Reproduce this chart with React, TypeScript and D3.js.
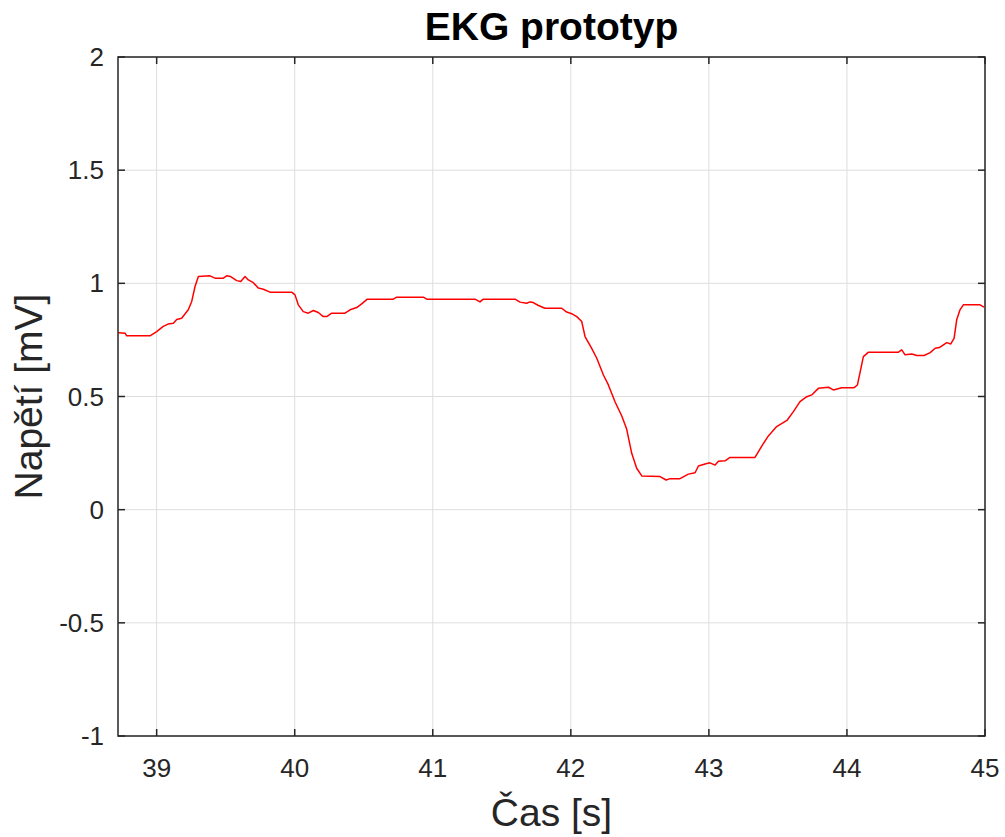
import React from "react";
import * as d3 from "d3";

const timeS: number[] = [
  38.722, 38.771, 38.783, 38.952, 39.0, 39.048, 39.082, 39.121, 39.145, 39.181,
  39.229, 39.254, 39.278, 39.302, 39.386, 39.423, 39.483, 39.507, 39.536, 39.58,
  39.609, 39.64, 39.664, 39.7, 39.736, 39.773, 39.821, 39.978, 40.002, 40.026,
  40.062, 40.098, 40.135, 40.171, 40.207, 40.232, 40.268, 40.364, 40.401, 40.449,
  40.485, 40.526, 40.714, 40.739, 40.932, 40.956, 41.306, 41.342, 41.366, 41.596,
  41.632, 41.68, 41.704, 41.728, 41.765, 41.813, 41.934, 41.97, 42.006, 42.043,
  42.079, 42.103, 42.151, 42.188, 42.236, 42.272, 42.32, 42.369, 42.405, 42.441,
  42.477, 42.514, 42.646, 42.69, 42.719, 42.791, 42.851, 42.9, 42.924, 42.972,
  43.008, 43.045, 43.069, 43.117, 43.153, 43.334, 43.383, 43.431, 43.491, 43.568,
  43.612, 43.66, 43.709, 43.745, 43.793, 43.866, 43.902, 43.962, 44.052, 44.076,
  44.119, 44.156, 44.373, 44.397, 44.421, 44.47, 44.506, 44.559, 44.603, 44.639,
  44.669, 44.723, 44.752, 44.776, 44.795, 44.819, 44.843, 44.964, 44.993,
];

const voltageMv: number[] = [
  0.782, 0.78, 0.768, 0.768, 0.787, 0.81, 0.82, 0.824, 0.84, 0.846,
  0.883, 0.92, 0.986, 1.03, 1.033, 1.023, 1.023, 1.033, 1.03, 1.012,
  1.008, 1.03, 1.015, 1.003, 0.979, 0.974, 0.961, 0.961, 0.949, 0.905,
  0.875, 0.868, 0.88, 0.871, 0.853, 0.853, 0.868, 0.868, 0.883, 0.893,
  0.909, 0.93, 0.93, 0.939, 0.939, 0.93, 0.93, 0.918, 0.93, 0.93,
  0.917, 0.912, 0.918, 0.915, 0.902, 0.89, 0.89, 0.873, 0.866, 0.853,
  0.831, 0.765, 0.713, 0.669, 0.595, 0.551, 0.477, 0.414, 0.355, 0.249,
  0.183, 0.149, 0.146, 0.131, 0.137, 0.137, 0.157, 0.163, 0.193, 0.202,
  0.207, 0.197, 0.214, 0.216, 0.231, 0.231, 0.281, 0.326, 0.367, 0.396,
  0.433, 0.477, 0.499, 0.507, 0.536, 0.541, 0.529, 0.539, 0.539, 0.551,
  0.676, 0.696, 0.696, 0.706, 0.684, 0.688, 0.681, 0.681, 0.694, 0.713,
  0.716, 0.738, 0.732, 0.757, 0.839, 0.883, 0.905, 0.905, 0.895,
];

const xTicks: number[] = [39, 40, 41, 42, 43, 44, 45];
const yTicks: number[] = [-1, -0.5, 0, 0.5, 1, 1.5, 2];
const xDomain: [number, number] = [38.72, 45];
const yDomain: [number, number] = [-1, 2];

const titleText = "EKG prototyp";
const xLabelText = "Čas [s]";
const yLabelText = "Napětí [mV]";

export default function App() {
  const W = 1005;
  const H = 837;
  const left = 118;
  const right = 985;
  const top = 57;
  const bottom = 736;

  const x = d3.scaleLinear().domain(xDomain).range([left, right]);
  const y = d3.scaleLinear().domain(yDomain).range([bottom, top]);

  const pts: [number, number][] = timeS.map((t, i) => [t, voltageMv[i]]);
  const line = d3
    .line<[number, number]>()
    .x((d) => x(d[0]))
    .y((d) => y(d[1]));

  const axisColor = "#262626";
  const gridColor = "#dedede";
  const tickLen = 7;
  const font = "'Liberation Sans', Arial, Helvetica, sans-serif";
  const fmt = (v: number) => (v < 0 ? "-" + String(Math.abs(v)) : String(v));

  return (
    <svg
      width={W}
      height={H}
      style={{ position: "absolute", left: 0, top: 0, background: "#fff" }}
      fontFamily={font}
    >
      <rect x={0} y={0} width={W} height={H} fill="#fff" />
      <defs>
        <clipPath id="plotClip">
          <rect x={left} y={top} width={right - left} height={bottom - top} />
        </clipPath>
      </defs>
      {/* grid */}
      {xTicks.map((t) => (
        <line key={"gx" + t} x1={x(t)} x2={x(t)} y1={top} y2={bottom} stroke={gridColor} strokeWidth={1} />
      ))}
      {yTicks.map((t) => (
        <line key={"gy" + t} x1={left} x2={right} y1={y(t)} y2={y(t)} stroke={gridColor} strokeWidth={1} />
      ))}
      {/* data */}
      <path
        d={line(pts) || ""}
        fill="none"
        stroke="#ff0000"
        strokeWidth={1.5}
        strokeLinejoin="round"
        clipPath="url(#plotClip)"
      />
      {/* box */}
      <rect x={left} y={top} width={right - left} height={bottom - top} fill="none" stroke={axisColor} strokeWidth={1.5} />
      {/* ticks */}
      {xTicks.map((t) => (
        <g key={"tx" + t}>
          <line x1={x(t)} x2={x(t)} y1={bottom} y2={bottom - tickLen} stroke={axisColor} strokeWidth={1.5} />
          <line x1={x(t)} x2={x(t)} y1={top} y2={top + tickLen} stroke={axisColor} strokeWidth={1.5} />
          <text x={x(t)} y={777} textAnchor="middle" fontSize={26} fill={axisColor}>
            {fmt(t)}
          </text>
        </g>
      ))}
      {yTicks.map((t) => (
        <g key={"ty" + t}>
          <line x1={left} x2={left + tickLen} y1={y(t)} y2={y(t)} stroke={axisColor} strokeWidth={1.5} />
          <line x1={right} x2={right - tickLen} y1={y(t)} y2={y(t)} stroke={axisColor} strokeWidth={1.5} />
          <text x={104} y={y(t) + 9} textAnchor="end" fontSize={26} fill={axisColor}>
            {fmt(t)}
          </text>
        </g>
      ))}
      {/* title */}
      <text x={(left + right) / 2} y={40} textAnchor="middle" fontSize={39} fontWeight="bold" fill="#000">
        {titleText}
      </text>
      {/* x label */}
      <text x={(left + right) / 2} y={826} textAnchor="middle" fontSize={39} fill={axisColor}>
        {xLabelText}
      </text>
      {/* y label */}
      <text
        transform={`translate(42, ${(top + bottom) / 2}) rotate(-90)`}
        textAnchor="middle"
        fontSize={39}
        fill={axisColor}
      >
        {yLabelText}
      </text>
    </svg>
  );
}
